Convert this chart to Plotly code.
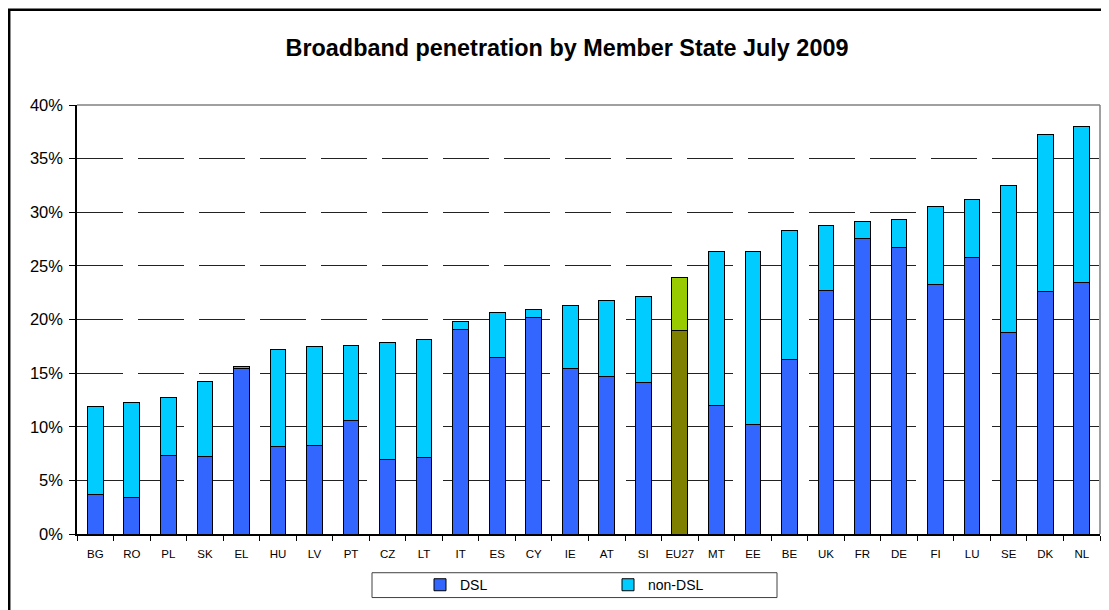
import plotly.graph_objects as go

countries = ["BG", "RO", "PL", "SK", "EL", "HU", "LV", "PT", "CZ", "LT", "IT", "ES", "CY", "IE",
             "AT", "SI", "EU27", "MT", "EE", "BE", "UK", "FR", "DE", "FI", "LU", "SE", "DK", "NL"]
total = [11.9, 12.3, 12.76, 14.24, 15.59, 17.2, 17.44, 17.57, 17.87, 18.18, 19.79, 20.68, 20.95, 21.27,
         21.79, 22.1, 23.95, 26.3, 26.3, 28.26, 28.78, 29.12, 29.37, 30.54, 31.22, 32.51, 37.23, 37.97]
dsl = [3.70, 3.39, 7.30, 7.21, 15.47, 8.14, 8.29, 10.54, 6.99, 7.12, 19.1, 16.49, 20.19, 15.41,
       14.67, 14.14, 18.98, 11.99, 10.17, 16.24, 22.68, 27.58, 26.69, 23.27, 25.76, 18.80, 22.59, 23.42]
non_dsl = [round(t - d, 2) for t, d in zip(total, dsl)]

y_ticks = [0, 5, 10, 15, 20, 25, 30, 35, 40]
y_labels = [f"{v}%" for v in y_ticks]

DSL_C, NON_C = "#3366FF", "#00CCFF"
EU_DSL_C, EU_NON_C = "#808000", "#99CC00"
dsl_colors = [EU_DSL_C if c == "EU27" else DSL_C for c in countries]
non_colors = [EU_NON_C if c == "EU27" else NON_C for c in countries]

# page offset (body margin) -> figure coordinates
O = 8
W, H = 1109 - O, 610 - O
L, R, T, B = 77 - O, 1100 - O, 105 - O, 537 - O

def px(x):  # page x -> paper
    return (x - O - L) / (R - L)

def py(y):  # page y -> paper
    return (B - (y - O)) / (B - T)

fig = go.Figure()
fig.add_bar(x=countries, y=dsl, name="DSL",
            marker=dict(color=dsl_colors, line=dict(color="black", width=1)))
fig.add_bar(x=countries, y=non_dsl, name="non-DSL",
            marker=dict(color=non_colors, line=dict(color="black", width=1)))

font = "Arial, Liberation Sans, sans-serif"
fig.update_layout(
    width=W, height=H,
    margin=dict(l=L, r=W - R, t=T, b=H - B),
    barmode="stack", bargap=0.57,
    plot_bgcolor="white", paper_bgcolor="white",
    font=dict(family=font, color="black"),
    title=dict(text="<b>Broadband penetration by Member State July 2009</b>",
               x=(567 - O) / W, xanchor="center", y=1 - (48 - O) / H, yanchor="middle",
               font=dict(size=23.4, family=font, color="black")),
    showlegend=True,
    legend=dict(orientation="h", x=px(420), xanchor="left", y=py(588.5), yanchor="middle",
                bgcolor="rgba(0,0,0,0)", borderwidth=0, font=dict(size=14),
                entrywidth=143, entrywidthmode="pixels", traceorder="normal"),
)
fig.update_xaxes(showline=True, linecolor="black", linewidth=1.5, ticks="outside",
                 tickson="boundaries", ticklen=5, tickcolor="black", tickangle=0,
                 ticklabelstandoff=8, tickfont=dict(size=11.5), showgrid=False)
fig.update_yaxes(range=[0, 40], tickvals=y_ticks, ticktext=y_labels, showline=True,
                 linecolor="black", linewidth=1.5, ticks="outside", ticklen=6, tickcolor="black",
                 ticklabelstandoff=3, tickfont=dict(size=16.5), showgrid=True,
                 gridcolor="#222222", gridwidth=1, griddash="46px,15px", zeroline=False)

# plot area frame (top/right grey)
fig.add_shape(type="line", xref="paper", yref="paper", x0=0, x1=1, y0=1, y1=1,
              line=dict(color="#808080", width=1.5), layer="below")
fig.add_shape(type="line", xref="paper", yref="paper", x0=1, x1=1, y0=0, y1=1,
              line=dict(color="#808080", width=1.5), layer="below")
# legend box
fig.add_shape(type="rect", xref="paper", yref="paper", x0=px(372), x1=px(777),
              y0=py(601), y1=py(576), line=dict(color="#404040", width=1))
# outer chart frame
fig.add_shape(type="rect", xref="paper", yref="paper", x0=px(9.2), x1=px(1109 + 30),
              y0=py(610 + 30), y1=py(9.2), line=dict(color="black", width=2.5))

fig.write_html("out.html")
